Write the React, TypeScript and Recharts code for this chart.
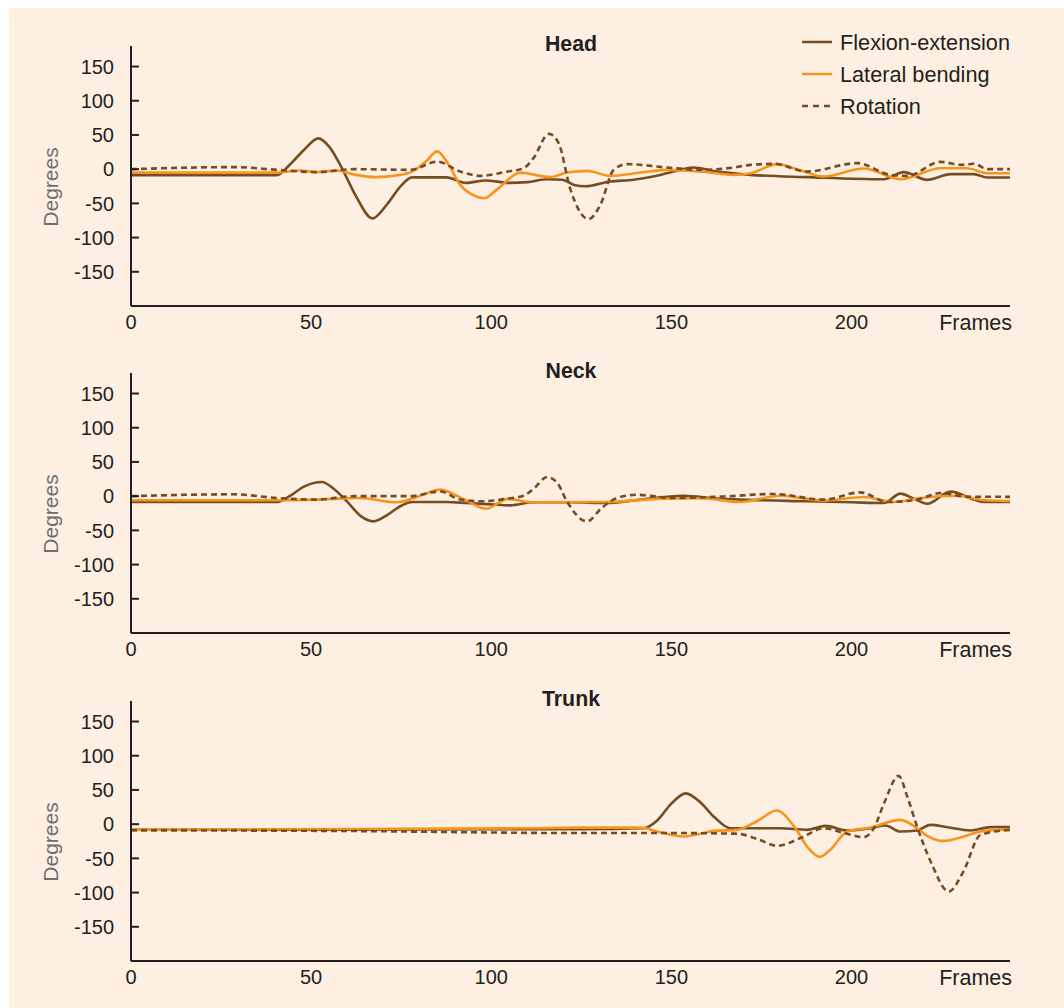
import { LineChart, Line, XAxis, YAxis, Customized } from "recharts";

const BROWN = "#754c24";
const ORANGE = "#f7941d";
const INK = "#231f20";
const FONT = "'Liberation Sans', Arial, Helvetica, sans-serif";

const xTicks = [0, 50, 100, 150, 200];
const yTicks = [-150, -100, -50, 0, 50, 100, 150];

// [frame, degrees]
const headFlexion = [
  [0, -9], [40.5, -9], [44, 6], [48, 28], [52, 45], [55, 33], [58.5, 2], [62.5, -40], [67, -72], [71, -52],
  [75, -24], [78, -12], [87.5, -12], [93, -20], [98.5, -16.5], [105, -20], [110, -19], [115.5, -14.7],
  [119.7, -15.5], [123, -23], [126, -25], [133, -18], [139.5, -15.5], [145, -10.8], [150.6, -3.5], [156, 2.4],
  [162.7, -3.5], [172, -8.3], [188, -11.7], [209, -14.7], [214.5, -4.4], [221, -15.6], [227.5, -7.3],
  [234, -7.3], [237.7, -12.3], [244, -12.3],
];
const headLateral = [
  [0, -5], [40.5, -5], [47, -2], [51.6, -4.4], [57, -2], [62, -8], [68, -11.7], [74, -9], [78, -3.5], [82, 12],
  [85, 26], [88, 8], [91.4, -23], [95, -38], [98, -42.5], [102, -28], [108, -5], [116.4, -11.7], [121, -5],
  [126.6, -2.5], [133, -9.8], [141.4, -5], [148.8, -1], [158, -3.5], [167.3, -8.3], [172, -6], [179.4, 7.3],
  [186, -2], [192.3, -10.8], [203.4, 1], [213.6, -14.6], [224.7, 1.4], [232, 1.4], [237.7, -5.9], [244, -6],
];
const headRotation = [
  [0, 0], [29, 3], [40.5, -1], [51.6, -4.4], [62, 0], [77.5, -1], [85, 11], [91.4, -3.5], [97, -9.8], [104, -4],
  [109, 1.4], [111.7, 16], [116, 51.6], [118.7, 38], [122, -30], [127, -73], [130.3, -52], [134, -1],
  [137.7, 7.3], [148.8, 2.4], [158, -1], [167.3, 2.4], [172, 6.3], [178.4, 7.8], [187.7, -3.5], [201.6, 8.8],
  [210.8, -8.3], [215.5, -9.8], [224.7, 10.7], [230.3, 6.3], [234, 7.8], [237.7, 0], [244, 0],
];

const neckFlexion = [
  [0, -8.5], [40.5, -8.5], [44, 0], [48, 14], [53, 20.7], [56, 12], [60, -8], [64, -30], [67.3, -36.8],
  [71, -28], [75, -14], [78, -8.5], [87.7, -8.5], [93.2, -10], [100, -12], [105.3, -13.4], [111.7, -9],
  [122, -9], [132, -10], [140, -6], [153.4, 0.7], [162.7, -3.5], [169.2, -5], [187.7, -7.5], [200, -9],
  [209, -10], [213.6, 3.7], [217, -3], [221, -11], [227.5, 6.6], [234, -5], [236.8, -8.5], [244, -8.5],
];
const neckLateral = [
  [0, -6], [40.5, -6], [51.6, -5], [63.6, -2.7], [73.8, -9], [80, 0], [85.8, 9.5], [92.6, -5], [98.6, -18.3],
  [104.6, -4], [111, -9], [132, -8.5], [146, -4], [158, -3], [169.2, -8.5], [180.3, 0.7], [192.3, -6.5],
  [203.4, -1.2], [211.8, -8.5], [219.2, -2.7], [229.4, 0.7], [236.8, -6], [244, -7],
];
const neckRotation = [
  [0, 0], [28.4, 2.7], [40.5, -2.7], [51.6, -5], [61.8, 0], [77.5, 0], [85.8, 7], [91.4, -5], [97.9, -7.5],
  [104, -4], [109, 0.7], [112, 12], [115.5, 28], [118.5, 18], [121, -7.5], [126.6, -36.8], [130.7, -17],
  [134.9, -2.7], [140.5, 2], [150.6, -2.7], [164.5, -0.5], [178.4, 3.2], [192.3, -5], [202.5, 5.6],
  [209.9, -8.5], [218.2, -5], [224.7, 4.6], [232, -0.7], [244, -1],
];

const trunkFlexion = [
  [0, -8], [60, -8], [124.7, -7.3], [142.3, -5.9], [146, 5], [150, 30], [154, 45], [158, 32], [162, 10],
  [166.4, -5.9], [180.3, -5.9], [187.7, -8.3], [192.8, -2.5], [198.8, -9.3], [205.3, -5.9], [209.4, -2],
  [213.6, -10.8], [218.2, -9.3], [221.9, -1], [226.6, -4.4], [233, -9.3], [238.6, -4.4], [244, -4.4],
];
const trunkLateral = [
  [0, -8], [60, -7], [110, -6], [124.7, -5], [141.4, -5], [147, -12], [153.4, -18], [158, -14], [161.8, -9.8],
  [168.2, -8.3], [174, 5], [179.2, 20], [184.3, -5], [188, -35], [191.2, -48], [194, -38], [198.8, -10.8],
  [205.3, -5], [213.6, 6.3], [218.2, -5.9], [221, -17], [225.6, -24.5], [230, -20], [235.8, -10.8], [244, -7.3],
];
const trunkRotation = [
  [0, -9], [60, -10], [124.7, -13], [150, -13], [168.2, -14], [174, -22], [179.4, -31.6], [186, -20],
  [192.3, -6], [198, -13], [203.4, -19], [206.2, -6], [209, 30], [213.1, 70.6], [215.5, 40], [218.2, -3.5],
  [222, -55], [227, -98.5], [231, -70], [235.8, -15.6], [244, -8.3],
];

const toPts = (arr: number[][]) => arr.map(([frame, v]) => ({ frame, v }));

function YTick(p: any) {
  return (
    <g>
      <line x1={p.x + 17} x2={p.x + 25} y1={p.y} y2={p.y} stroke={INK} strokeWidth={2} />
      <text x={p.x} y={p.y} dy="0.36em" textAnchor="end" fontSize={20} fill={INK} fontFamily={FONT}>
        {p.payload.value}
      </text>
    </g>
  );
}

function XTick(p: any) {
  return (
    <text x={p.x} y={p.y} dy="0.71em" textAnchor="middle" fontSize={20} fill={INK} fontFamily={FONT}>
      {p.payload.value}
    </text>
  );
}

function Legend() {
  const rows = [
    { label: "Flexion-extension", color: BROWN, dash: undefined, y: 34 },
    { label: "Lateral bending", color: ORANGE, dash: undefined, y: 66 },
    { label: "Rotation", color: BROWN, dash: "6 5", y: 98 },
  ];
  return (
    <g>
      {rows.map(r => (
        <g key={r.label}>
          <line x1={793} x2={823} y1={r.y} y2={r.y} stroke={r.color} strokeWidth={2.5} strokeDasharray={r.dash} />
          <text x={831} y={r.y} dy="0.36em" fontSize={21.7} fill={INK} fontFamily={FONT}>{r.label}</text>
        </g>
      ))}
    </g>
  );
}

function Panel({ title, flex, lat, rot, height, legend }: any) {
  return (
    <LineChart width={1055} height={height} margin={{ top: 38, right: 54, bottom: height - 298 - 24, left: 62 }}>
      <XAxis
        type="number" dataKey="frame" domain={[0, 244]} ticks={xTicks} height={24}
        axisLine={{ stroke: INK, strokeWidth: 2 }} tickLine={false} tickSize={0} tickMargin={9}
        tick={(p: any) => <XTick {...p} />}
      />
      <YAxis
        type="number" domain={[-200, 180]} ticks={yTicks} width={60}
        axisLine={{ stroke: INK, strokeWidth: 2 }} tickLine={false} tickSize={0} tickMargin={17}
        tick={(p: any) => <YTick {...p} />}
      />
      <Line data={toPts(flex)} dataKey="v" type="monotone" stroke={BROWN} strokeWidth={2.6} dot={false} isAnimationActive={false} />
      <Line data={toPts(lat)} dataKey="v" type="monotone" stroke={ORANGE} strokeWidth={2.6} dot={false} isAnimationActive={false} />
      <Line data={toPts(rot)} dataKey="v" type="monotone" stroke={BROWN} strokeWidth={2.6} strokeDasharray="6 4" dot={false} isAnimationActive={false} />
      <Customized
        component={() => (
          <g>
            <text x={562} y={42.5} textAnchor="middle" fontSize={21.3} fontWeight="bold" fill={INK} fontFamily={FONT}>{title}</text>
            <text x={1003} y={307} dy="0.71em" textAnchor="end" fontSize={21.5} fill={INK} fontFamily={FONT}>Frames</text>
            <text x={41} y={179} transform="rotate(-90 41 179)" dy="0.36em" textAnchor="middle" fontSize={21} fill="#6d6e71" fontFamily={FONT}>Degrees</text>
            {legend && <Legend />}
          </g>
        )}
      />
    </LineChart>
  );
}

export default function App() {
  return (
    <div style={{ position: "absolute", left: 9, top: 8, width: 1055, height: 1000, background: "#fdf0e2" }}>
      <div style={{ position: "absolute", left: 0, top: 0 }}>
        <Panel title="Head" flex={headFlexion} lat={headLateral} rot={headRotation} height={327} legend />
      </div>
      <div style={{ position: "absolute", left: 0, top: 327 }}>
        <Panel title="Neck" flex={neckFlexion} lat={neckLateral} rot={neckRotation} height={327} />
      </div>
      <div style={{ position: "absolute", left: 0, top: 655 }}>
        <Panel title="Trunk" flex={trunkFlexion} lat={trunkLateral} rot={trunkRotation} height={345} />
      </div>
    </div>
  );
}
